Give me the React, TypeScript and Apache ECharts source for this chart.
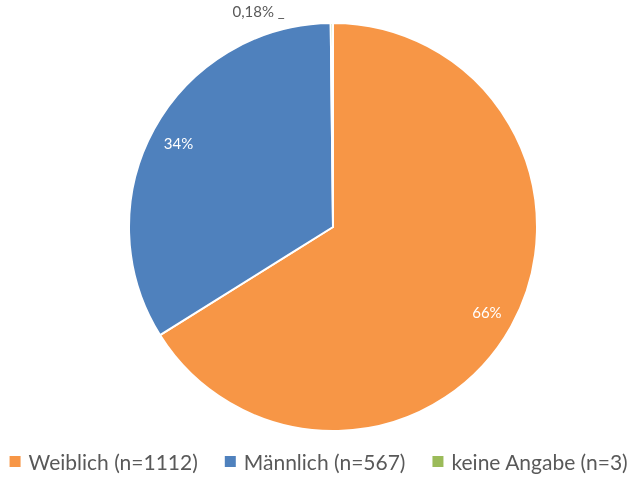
import React, { useEffect, useRef } from "react";
import * as echarts from "echarts";

const categories = ["Weiblich (n=1112)", "Männlich (n=567)", "keine Angabe (n=3)"];
const values = [1112, 567, 3];
const colors = ["#F79646", "#4F81BD", "#9BBB59"];

const total = values.reduce((a, b) => a + b, 0);
const fmtPct = (v: number) => {
  const p = (v / total) * 100;
  return p < 1 ? p.toFixed(2).replace(".", ",") + "%" : Math.round(p) + "%";
};

export default function App() {
  const ref = useRef<HTMLDivElement>(null);
  useEffect(() => {
    const chart = echarts.init(ref.current!, null, { renderer: "svg" });
    const data = categories.map((name, i) => ({ name, value: values[i], itemStyle: { color: colors[i] } }));
    chart.setOption({
      animation: false,
      textStyle: { fontFamily: "Lato" },
      legend: {
        data: categories,
        left: "center",
        top: 446,
        icon: "rect",
        itemWidth: 13,
        itemHeight: 13,
        itemGap: 25,
        textStyle: { fontSize: 21, color: "#595959", fontFamily: "Lato", padding: [0, 0, 0, 2] },
      },
      series: [
        {
          type: "pie",
          center: [333, 227],
          radius: [0, 204],
          startAngle: 90,
          clockwise: true,
          silent: true,
          itemStyle: { borderColor: "#fff", borderWidth: 2 },
          label: { show: false },
          labelLine: { show: false },
          data,
        },
        {
          type: "pie",
          center: [333, 227],
          radius: [142, 204],
          startAngle: 90,
          clockwise: true,
          silent: true,
          legendHoverLink: false,
          itemStyle: { color: "transparent", borderWidth: 0 },
          labelLine: { show: false },
          labelLayout: (params: any) =>
            values[params.dataIndex] / total < 0.01 ? { dx: -12, dy: 3 } : {},
          data: data.map((d, i) => ({
            name: d.name,
            value: d.value,
            itemStyle: { color: "transparent" },
            label:
              values[i] / total < 0.01
                ? {
                    show: true,
                    position: "outside",
                    formatter: () => fmtPct(values[i]) + " _",
                    color: "#595959",
                    fontSize: 15,
                    fontFamily: "Lato",
                  }
                : {
                    show: true,
                    position: "inside",
                    formatter: () => fmtPct(values[i]),
                    color: "#fff",
                    fontSize: 15,
                    fontFamily: "Lato",
                  },
          })),
        },
      ],
    });
    return () => chart.dispose();
  }, []);
  return <div ref={ref} style={{ position: "fixed", left: 0, top: 0, width: 636, height: 477 }} />;
}
